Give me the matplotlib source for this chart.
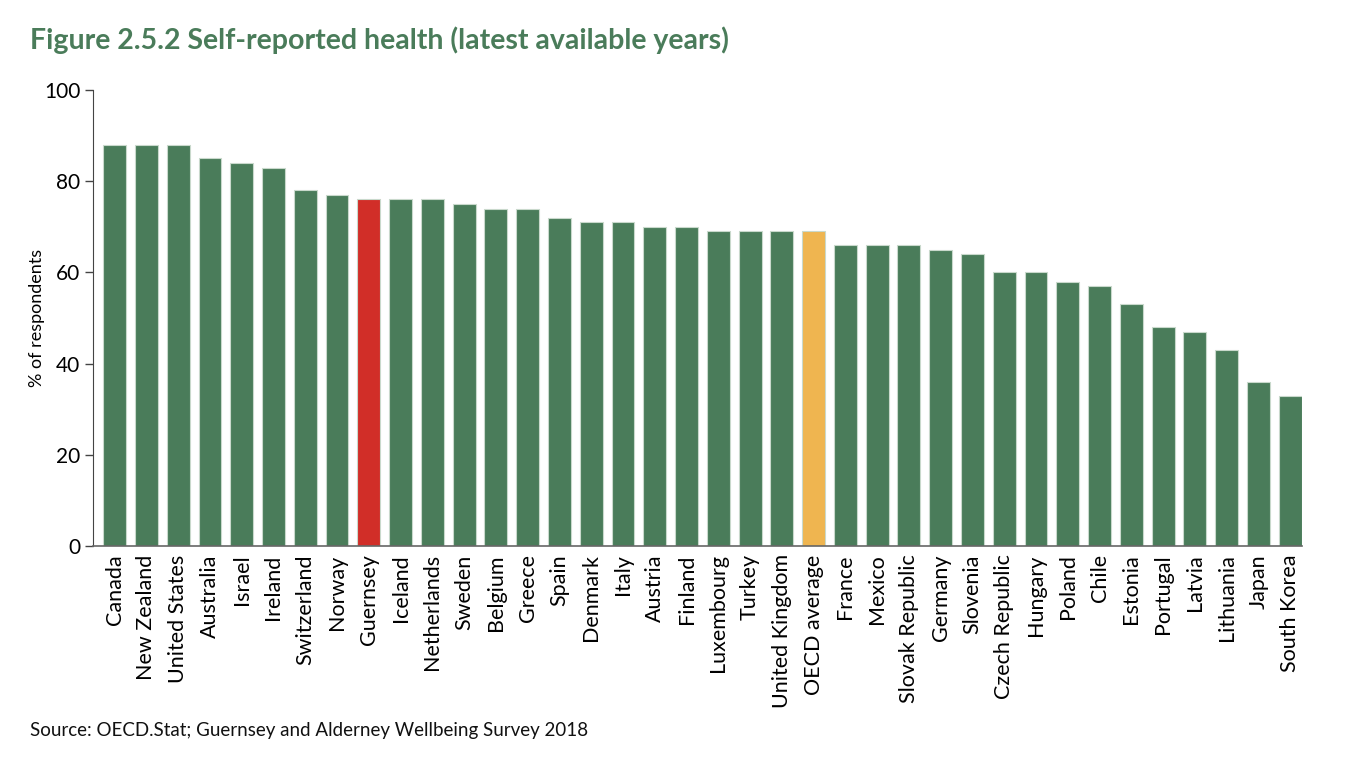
import matplotlib
matplotlib.use("Agg")
import matplotlib.pyplot as plt

countries = ["Canada", "New Zealand", "United States", "Australia", "Israel", "Ireland",
             "Switzerland", "Norway", "Guernsey", "Iceland", "Netherlands", "Sweden",
             "Belgium", "Greece", "Spain", "Denmark", "Italy", "Austria", "Finland",
             "Luxembourg", "Turkey", "United Kingdom", "OECD average", "France", "Mexico",
             "Slovak Republic", "Germany", "Slovenia", "Czech Republic", "Hungary", "Poland",
             "Chile", "Estonia", "Portugal", "Latvia", "Lithuania", "Japan", "South Korea"]
values = [88, 88, 88, 85, 84, 83, 78, 77, 76, 76, 76, 75, 74, 74, 72, 71, 71, 70, 70,
          69, 69, 69, 69, 66, 66, 66, 65, 64, 60, 60, 58, 57, 53, 48, 47, 43, 36, 33]
yticks = [0, 20, 40, 60, 80, 100]

GREEN = "#4a7c5a"
RED = "#d12e28"
ORANGE = "#efb550"
colors = [RED if c == "Guernsey" else ORANGE if c == "OECD average" else GREEN for c in countries]

plt.rcParams['font.family'] = ['Lato', 'DejaVu Sans']

fig = plt.figure(figsize=(13.64, 7.82), dpi=100)
ax = fig.add_axes([0.0682, 0.3018, 0.8863, 0.5831])

x = list(range(len(countries)))
ax.bar(x, values, width=0.72, color=colors, edgecolor="#c9d9cc", linewidth=0.8, zorder=2)

ax.set_xlim(-0.68, len(countries) - 1 + 0.37)
ax.set_ylim(0, 100)
ax.set_yticks(yticks)
ax.set_yticklabels([str(t) for t in yticks], fontsize=15)
ax.set_xticks(x)
ax.set_xticklabels(countries, rotation=90, fontsize=15.5)
ax.tick_params(axis='x', length=0, pad=6)
ax.tick_params(axis='y', direction='out', length=6, width=1, color="#444444", pad=3)

for s in ["top", "right"]:
    ax.spines[s].set_visible(False)
ax.spines["left"].set_color("#444444")
ax.spines["bottom"].set_color("#666666")
ax.spines["bottom"].set_linewidth(1.2)

ax.set_ylabel("% of respondents", fontsize=13)
ax.yaxis.set_label_coords(-0.040, 0.5)

fig.text(0.022, 0.948, "Figure 2.5.2 Self-reported health (latest available years)",
         fontsize=20.5, fontweight="bold", color="#4a7c5a", va="center", ha="left")
fig.text(0.022, 0.066, "Source: OECD.Stat; Guernsey and Alderney Wellbeing Survey 2018",
         fontsize=13.5, color="#111111", va="center", ha="left")

fig.savefig("out.png", dpi=100)
